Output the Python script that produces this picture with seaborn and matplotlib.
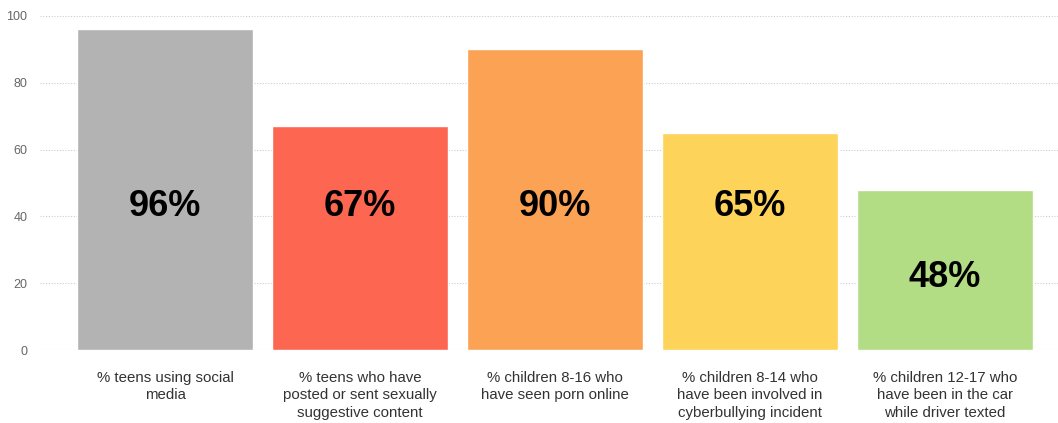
import pandas as pd
import seaborn as sns
import matplotlib.pyplot as plt

categories = [
    "% teens using social\nmedia",
    "% teens who have\nposted or sent sexually\nsuggestive content",
    "% children 8-16 who\nhave seen porn online",
    "% children 8-14 who\nhave been involved in\ncyberbullying incident",
    "% children 12-17 who\nhave been in the car\nwhile driver texted",
]
values = [96, 67, 90, 65, 48]
colors = ["#b3b3b3", "#fd6650", "#fba254", "#fdd35a", "#b3dd85"]

df = pd.DataFrame({"category": categories, "value": values})

sns.set_style("white")
plt.rcParams["font.family"] = ["Liberation Sans", "DejaVu Sans"]

fig = plt.figure(figsize=(10.58, 4.23), dpi=100)
ax = fig.add_axes([40 / 1058, 73 / 423, 1018 / 1058, 334 / 423])

sns.barplot(data=df, x="category", y="value", hue="category", palette=colors,
            legend=False, width=0.9, saturation=1, ax=ax, zorder=3)

for i, v in enumerate(values):
    ypos = 43 if v > 50 else v * 0.45
    ax.text(i, ypos, f"{v}%", ha="center", va="center",
            fontsize=26, fontweight="bold", color="black", zorder=4)

ax.set_ylim(0, 100)
ax.set_xlim(-0.641, 4.579)
ax.set_yticks(range(0, 101, 20))
ax.yaxis.grid(True, linestyle=(0, (1, 1.5)), color="#cccccc", linewidth=0.8, zorder=0)
ax.tick_params(axis="y", labelsize=9, labelcolor="#666666", length=0, pad=9)
ax.tick_params(axis="x", labelsize=10.8, labelcolor="#333333", length=0, pad=15)
for lbl in ax.get_xticklabels():
    lbl.set_linespacing(1.32)
ax.set_xlabel("")
ax.set_ylabel("")
sns.despine(ax=ax, left=True, bottom=True)

fig.savefig("out.png", dpi=100)
